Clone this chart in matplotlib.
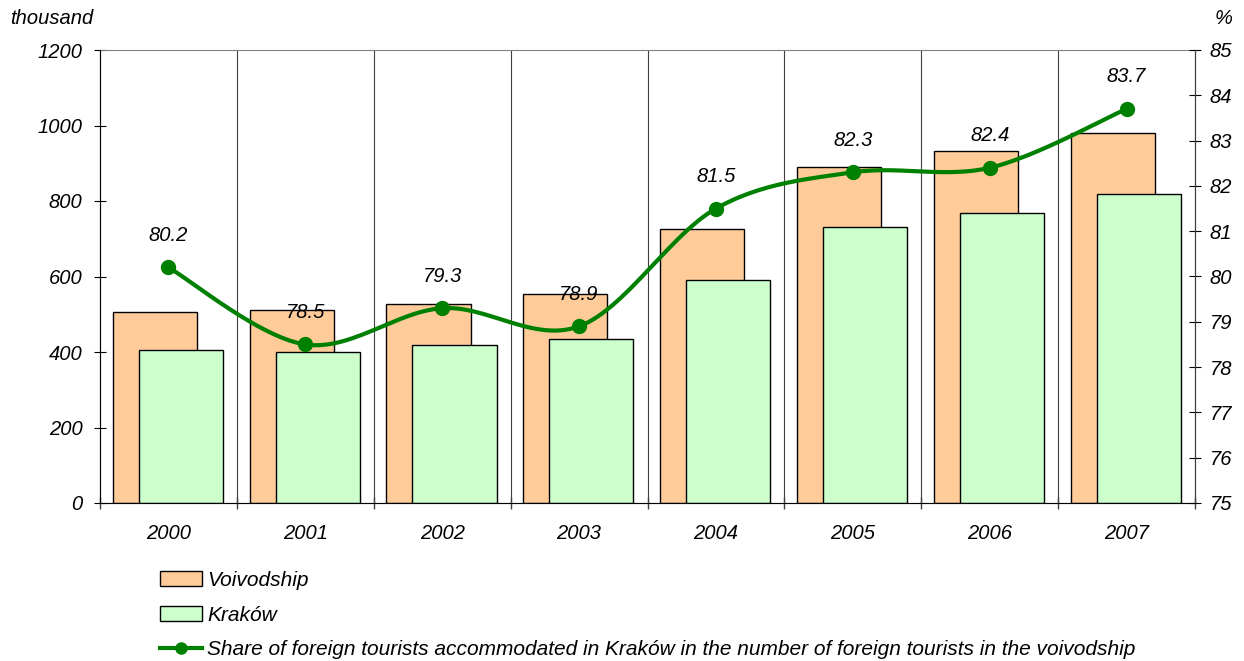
import matplotlib.pyplot as plt
import numpy as np
from matplotlib.patches import Patch
from matplotlib.lines import Line2D

plt.rcParams["font.family"] = ["Liberation Sans", "DejaVu Sans"]
plt.rcParams["font.style"] = "italic"

years = ["2000", "2001", "2002", "2003", "2004", "2005", "2006", "2007"]
voivodship = [506, 511, 527, 554, 726, 890, 932, 980]
krakow = [405, 400, 418, 434, 591, 731, 768, 818]
share = [80.2, 78.5, 79.3, 78.9, 81.5, 82.3, 82.4, 83.7]

line_label = ("Share of foreign tourists accommodated in Kraków in the number "
              "of foreign tourists in the voivodship")


def smooth(x, y, n=30):
    # Catmull-Rom, close to Excel's smoothed line
    x = np.asarray(x, float)
    y = np.asarray(y, float)
    px = np.concatenate([[x[0]], x, [x[-1]]])
    py = np.concatenate([[y[0]], y, [y[-1]]])
    xs, ys = [], []
    t = np.linspace(0, 1, n)
    for i in range(1, len(px) - 2):
        p0x, p1x, p2x, p3x = px[i - 1], px[i], px[i + 1], px[i + 2]
        p0y, p1y, p2y, p3y = py[i - 1], py[i], py[i + 1], py[i + 2]
        c1x = p1x + (p2x - p0x) / 6
        c1y = p1y + (p2y - p0y) / 6
        c2x = p2x - (p3x - p1x) / 6
        c2y = p2y - (p3y - p1y) / 6
        bx = ((1 - t) ** 3 * p1x + 3 * (1 - t) ** 2 * t * c1x
              + 3 * (1 - t) * t ** 2 * c2x + t ** 3 * p2x)
        by = ((1 - t) ** 3 * p1y + 3 * (1 - t) ** 2 * t * c1y
              + 3 * (1 - t) * t ** 2 * c2y + t ** 3 * p2y)
        xs.extend(bx)
        ys.extend(by)
    return np.array(xs), np.array(ys)


fig = plt.figure(figsize=(12.44, 6.61), dpi=100)
ax = fig.add_axes([100 / 1244, 1 - 503 / 661, 1095 / 1244, 453 / 661])

x = np.arange(len(years))
w = 0.615
ax.bar(x - 0.1, voivodship, w, color="#FFCC99", edgecolor="black",
       linewidth=1, zorder=2)
ax.bar(x + 0.09, krakow, w, color="#CCFFCC", edgecolor="black",
       linewidth=1, zorder=3)

ax.set_xlim(-0.5, len(years) - 0.5)
ax.set_ylim(0, 1200)
ax.set_yticks(range(0, 1201, 200))
ax.set_xticks(x)
ax.set_xticklabels(years)
ax.set_xticks(np.arange(-0.5, len(years)), minor=True)
ax.tick_params(axis="x", which="major", length=0, pad=15, labelsize=14.5)
ax.tick_params(axis="x", which="minor", length=9, direction="inout",
               width=1, color="#404040")
ax.tick_params(axis="y", length=9, direction="inout", labelsize=14.5, pad=8)
for b in np.arange(0.5, len(years) - 0.5):
    ax.axvline(b, color="#404040", linewidth=0.8, zorder=1)
ax.spines["top"].set_color("#808080")
ax.spines["left"].set_color("#404040")
ax.spines["bottom"].set_color("#808080")

ax2 = ax.twinx()
ax2.set_ylim(75, 85)
ax2.set_yticks(range(75, 86))
ax2.tick_params(axis="y", length=9, direction="inout", labelsize=14.5, pad=6)
ax2.spines["right"].set_color("#404040")
ax2.spines["top"].set_visible(False)

sx, sy = smooth(x, share)
ax2.plot(sx, sy, color="#008000", linewidth=3, zorder=4)
ax2.plot(x, share, "o", color="#008000", markersize=10, zorder=5)
for xi, v in zip(x, share):
    ax2.annotate(f"{v:.1f}", (xi, v), xytext=(0, 23), textcoords="offset points",
                 ha="center", va="center", fontsize=14.5)

fig.text(10 / 1244, 1 - 18 / 661, "thousand", fontsize=14.5, va="center", ha="left")
fig.text(1232 / 1244, 1 - 18 / 661, "%", fontsize=14.5, va="center", ha="right")

handles = [
    Patch(facecolor="#FFCC99", edgecolor="black", linewidth=1),
    Patch(facecolor="#CCFFCC", edgecolor="black", linewidth=1),
    Line2D([], [], color="#008000", linewidth=3, marker="o", markersize=8),
]
fig.legend(handles, ["Voivodship", "Kraków", line_label], loc="upper left",
           bbox_to_anchor=(160 / 1244, 1 - 571 / 661), frameon=False,
           fontsize=15, handlelength=2.0, handleheight=0.7, handletextpad=0.25,
           labelspacing=0.75, borderpad=0, borderaxespad=0)

fig.savefig("out.png", dpi=100)
